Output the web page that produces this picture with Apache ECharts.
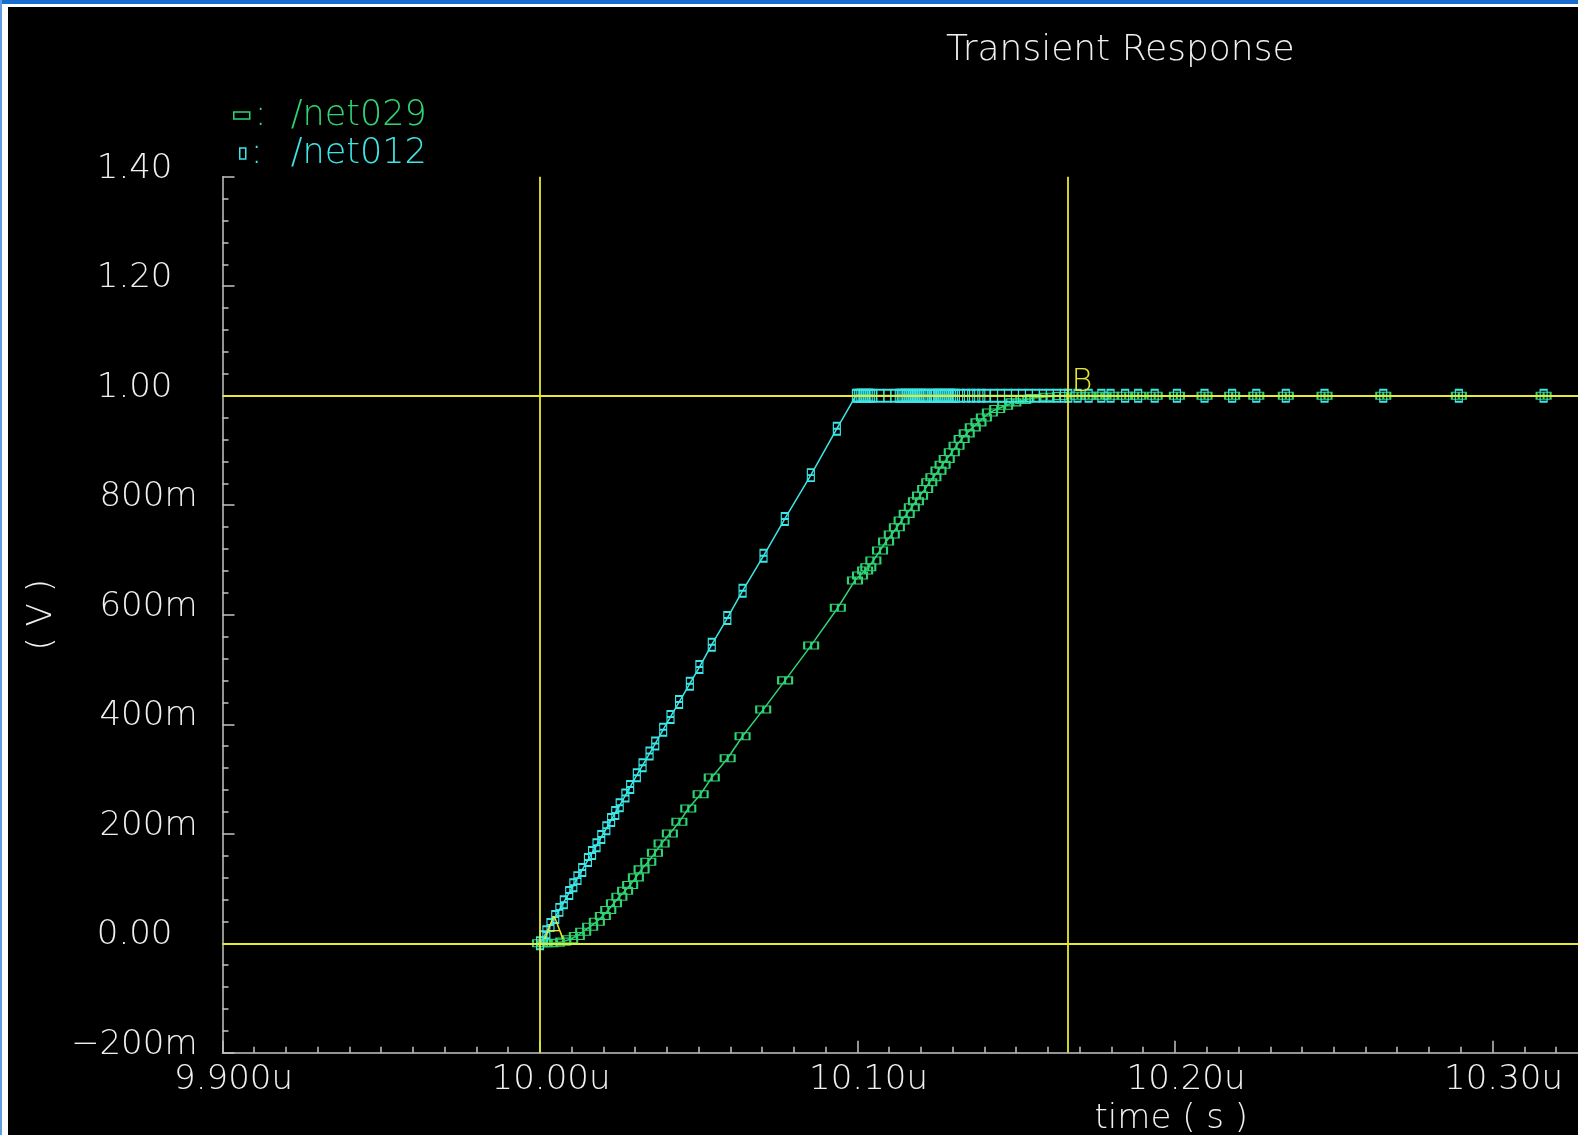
<!DOCTYPE html>
<html><head><meta charset="utf-8">
<script src="https://cdn.jsdelivr.net/npm/echarts@6/dist/echarts.min.js"></script>
<style>
html,body{margin:0;padding:0;background:#000;overflow:hidden;width:1578px;height:1135px}
#wrap{position:absolute;left:0;top:0;width:1578px;height:1135px;overflow:hidden}
#chart{position:absolute;left:0;top:0;width:1810px;height:1135px}
.b{position:absolute;z-index:5}
</style></head><body>
<div id="wrap"><div id="chart"></div></div>
<div class="b" style="left:0;top:0;width:1578px;height:4px;background:#1b6ccf"></div>
<div class="b" style="left:2px;top:4px;width:1576px;height:3px;background:#fff"></div>
<div class="b" style="left:0;top:0;width:2px;height:1135px;background:#5d9de0"></div>
<div class="b" style="left:2px;top:4px;width:6px;height:1131px;background:#fff"></div>
<script>
// ---------- data ----------
const chartTitle = 'Transient Response';
const seriesNames = ['/net029', '/net012'];
const xAxisName = 'time ( s )';
const yAxisName = '( V )';
const xTickValues = [9.9, 10.0, 10.1, 10.2, 10.3];
const xTickLabels = ['9.900u', '10.00u', '10.10u', '10.20u', '10.30u'];
const yTickValues = [-0.2, 0, 0.2, 0.4, 0.6, 0.8, 1.0, 1.2, 1.4];
const yTickLabels = ['\u2212200m', '0.00', '200m', '400m', '600m', '800m', '1.00', '1.20', '1.40'];
const cursorNames = ['A', 'B'];
const cursorTimes = [10.0, 10.1663];
const cursorValues = [0, 1.0];

// /net012 (cyan) : time in us, voltage in V
const timeNet012 = [10.0000, 10.0011, 10.0020, 10.0033, 10.0048, 10.0061, 10.0075, 10.0092, 10.0105, 10.0118,
  10.0133, 10.0151, 10.0164, 10.0178, 10.0193, 10.0209, 10.0224, 10.0237, 10.0251, 10.0269,
  10.0284, 10.0305, 10.0323, 10.0345, 10.0363, 10.0388, 10.0411, 10.0438, 10.0472, 10.0502,
  10.0541, 10.0590, 10.0638, 10.0704, 10.0771, 10.0853, 10.0935, 10.0995,
  10.1001, 10.1007, 10.1013, 10.1019, 10.1025, 10.1031, 10.1037, 10.1043, 10.1049,
  10.1072, 10.1094, 10.1116,
  10.1130, 10.1136, 10.1142, 10.1148, 10.1154, 10.1160, 10.1166, 10.1172, 10.1178, 10.1184,
  10.1190, 10.1196, 10.1202, 10.1208, 10.1214, 10.1220, 10.1232, 10.1238, 10.1244, 10.1250,
  10.1256, 10.1262, 10.1268, 10.1274, 10.1280, 10.1286, 10.1292, 10.1298, 10.1304, 10.1310,
  10.1326, 10.1342, 10.1358, 10.1374, 10.1390, 10.1406,
  10.1430, 10.1452, 10.1474, 10.1496, 10.1518, 10.1540, 10.1562, 10.1584, 10.1606, 10.1628, 10.1650, 10.1664,
  10.1693, 10.1728, 10.1768, 10.1797, 10.1843, 10.1884, 10.1936, 10.2006, 10.2093, 10.2180,
  10.2256, 10.2349, 10.2471, 10.2656, 10.2894, 10.3161, 10.3600];
const voltNet012 = [0, 0.011, 0.020, 0.0335, 0.048, 0.061, 0.075, 0.092, 0.106, 0.119,
  0.134, 0.152, 0.165, 0.179, 0.194, 0.210, 0.225, 0.238, 0.252, 0.270,
  0.2856, 0.307, 0.325, 0.3465, 0.3648, 0.390, 0.4133, 0.4406, 0.474, 0.5045,
  0.5453, 0.594, 0.6438, 0.7077, 0.775, 0.855, 0.9398, 1.0,
  1, 1, 1, 1, 1, 1, 1, 1, 1,
  1, 1, 1,
  1, 1, 1, 1, 1, 1, 1, 1, 1, 1,
  1, 1, 1, 1, 1, 1, 1, 1, 1, 1,
  1, 1, 1, 1, 1, 1, 1, 1, 1, 1,
  1, 1, 1, 1, 1, 1,
  1, 1, 1, 1, 1, 1, 1, 1, 1, 1, 1, 1,
  1, 1, 1, 1, 1, 1, 1, 1, 1, 1,
  1, 1, 1, 1, 1, 1, 1];

// /net029 (green)
const timeNet029 = [10.0000, 10.0015, 10.0032, 10.0053, 10.0073, 10.0095, 10.0116, 10.0136, 10.0158, 10.0179,
  10.0198, 10.0215, 10.0233, 10.0250, 10.0268, 10.0284, 10.0302, 10.0320, 10.0341, 10.0362,
  10.0383, 10.0409, 10.0439, 10.0467, 10.0506, 10.0541, 10.0591, 10.0638, 10.0703, 10.0772,
  10.0854, 10.0938, 10.0992, 10.1008, 10.1024, 10.1034, 10.1050, 10.1071, 10.1090, 10.1108,
  10.1124, 10.1139, 10.1155, 10.1171, 10.1184, 10.1197, 10.1213, 10.1226, 10.1239, 10.1255,
  10.1268, 10.1281, 10.1297, 10.1312, 10.1328, 10.1344, 10.1363, 10.1381, 10.1398, 10.1417,
  10.1440, 10.1465, 10.1491, 10.1522, 10.1554, 10.1596, 10.1638,
  10.1693, 10.1728, 10.1768, 10.1797, 10.1843, 10.1884, 10.1936, 10.2006, 10.2093, 10.2180,
  10.2256, 10.2349, 10.2471, 10.2656, 10.2894, 10.3161, 10.3600];
const voltNet029 = [0, 0, 0, 0.001, 0.003, 0.0073, 0.0133, 0.0212, 0.0303, 0.0394,
  0.0498, 0.0607, 0.0730, 0.0850, 0.0959, 0.1063, 0.1204, 0.1350, 0.1488, 0.1652,
  0.1824, 0.2006, 0.2218, 0.2462, 0.2723, 0.3028, 0.3380, 0.3781, 0.4268, 0.4802,
  0.5440, 0.6128, 0.6626, 0.6717, 0.6808, 0.6868, 0.6991, 0.7173, 0.7337, 0.7465,
  0.7598, 0.7720, 0.7842, 0.7963, 0.8072, 0.8176, 0.8298, 0.8419, 0.8510, 0.8632,
  0.8741, 0.8845, 0.8966, 0.9088, 0.9210, 0.9312, 0.9422, 0.9513, 0.9604, 0.9695,
  0.9757, 0.9818, 0.9878, 0.9922, 0.9958, 0.9982, 0.9995,
  1, 1, 1, 1, 1, 1, 1, 1, 1, 1,
  1, 1, 1, 1, 1, 1, 1];

// ---------- style ----------
const FONT = 'DejaVu Sans';
const FW = 200;
const GREEN = '#2fd473';
const CYAN = '#3ce6e6';
const YELLOW = '#e8e830';
const AXIS = '#c4c4c4';
const TXT = '#f0f0f0';

const zip = (a, b) => a.map((t, i) => [t, b[i]]);
const findLabel = (vals, labs, v) => {
  for (let i = 0; i < vals.length; i++) if (Math.abs(vals[i] - v) < 1e-6) return labs[i];
  return '';
};

const chart = echarts.init(document.getElementById('chart'), null, {renderer: 'canvas'});
const legendBase = {
  orient: 'vertical', padding: 0, itemGap: 0, selectedMode: false,
  formatter: n => '{c|:}{n|' + n + '}'
};
chart.setOption({
  backgroundColor: '#000',
  animation: false,
  title: {
    text: chartTitle, left: 946, top: 33, padding: 0,
    textStyle: {color: TXT, fontFamily: FONT, fontWeight: FW, fontSize: 36}
  },
  legend: [
    Object.assign({}, legendBase, {
      left: 233, top: 98, itemWidth: 16, itemHeight: 7,
      data: [{name: seriesNames[0], icon: 'path://M0,0L16,0L16,7L0,7Z',
        itemStyle: {color: 'rgba(0,0,0,0)', borderColor: GREEN, borderWidth: 1.5}}],
      textStyle: {color: GREEN, fontFamily: FONT, fontWeight: FW, fontSize: 35,
        rich: {c: {width: 36, color: GREEN, fontFamily: FONT, fontWeight: FW, fontSize: 35},
               n: {color: GREEN, fontFamily: FONT, fontWeight: FW, fontSize: 35}}}
    }),
    Object.assign({}, legendBase, {
      left: 239, top: 136, itemWidth: 6, itemHeight: 11,
      data: [{name: seriesNames[1], icon: 'path://M0,0L6,0L6,11L0,11Z',
        itemStyle: {color: 'rgba(0,0,0,0)', borderColor: CYAN, borderWidth: 1.5}}],
      textStyle: {color: CYAN, fontFamily: FONT, fontWeight: FW, fontSize: 35,
        rich: {c: {width: 40, color: CYAN, fontFamily: FONT, fontWeight: FW, fontSize: 35},
               n: {color: CYAN, fontFamily: FONT, fontWeight: FW, fontSize: 35}}}
    })
  ],
  grid: {left: 222.5, top: 176.7, bottom: 82.2, right: 0, containLabel: false, outerBoundsMode: 'none'},
  xAxis: {
    type: 'value', min: 9.9, max: 10.4, interval: 0.1,
    axisLine: {show: true, onZero: false, lineStyle: {color: AXIS, width: 1.5}},
    axisTick: {show: true, inside: true, length: 12, lineStyle: {color: AXIS, width: 1.5}},
    minorTick: {show: true, splitNumber: 10, length: 6, lineStyle: {color: AXIS, width: 1.5}},
    splitLine: {show: false},
    axisLabel: {
      show: true, margin: 10, color: TXT, fontFamily: FONT, fontWeight: FW, fontSize: 34,
      padding: [0, 0, 0, 22],
      formatter: v => findLabel(xTickValues, xTickLabels, v)
    },
    name: xAxisName, nameLocation: 'middle', nameGap: 45,
    nameTextStyle: {color: TXT, fontFamily: FONT, fontWeight: FW, fontSize: 34, padding: [0, 0, 0, 310]}
  },
  yAxis: {
    type: 'value', min: -0.2, max: 1.4, interval: 0.2,
    axisLine: {show: true, onZero: false, lineStyle: {color: AXIS, width: 1.5}},
    axisTick: {show: true, inside: true, length: 12, lineStyle: {color: AXIS, width: 1.5}},
    minorTick: {show: true, splitNumber: 5, length: 6, lineStyle: {color: AXIS, width: 1.5}},
    splitLine: {show: false},
    axisLabel: {
      show: true, margin: 25, color: TXT, fontFamily: FONT, fontWeight: FW, fontSize: 34,
      padding: [0, 0, 16, 0],
      formatter: v => {
        const l = findLabel(yTickValues, yTickLabels, v);
        return l.indexOf('.') >= 0 ? '{n|' + l + '}{s| }' : l;
      },
      rich: {
        n: {color: TXT, fontFamily: FONT, fontWeight: FW, fontSize: 34},
        s: {width: 25, fontFamily: FONT, fontSize: 34}
      }
    },
    name: yAxisName, nameLocation: 'middle', nameGap: 163, nameRotate: 90,
    nameTextStyle: {color: TXT, fontFamily: FONT, fontWeight: FW, fontSize: 34}
  },
  series: [
    {
      name: seriesNames[0], type: 'line', data: zip(timeNet029, voltNet029),
      showAllSymbol: true, silent: true, z: 2,
      symbol: 'path://M0,0L14,0L14,7L0,7Z M7,0L7,7', symbolSize: [14, 7],
      itemStyle: {color: 'rgba(0,0,0,0)', borderColor: GREEN, borderWidth: 1.5},
      lineStyle: {color: GREEN, width: 1.5},
      emphasis: {disabled: true}
    },
    {
      name: seriesNames[1], type: 'line', data: zip(timeNet012, voltNet012),
      showAllSymbol: true, silent: true, z: 3,
      symbol: 'path://M0,0L7,0L7,12L0,12Z M0,6L7,6', symbolSize: [7, 12],
      itemStyle: {color: 'rgba(0,0,0,0)', borderColor: CYAN, borderWidth: 1.5},
      lineStyle: {color: CYAN, width: 1.5},
      emphasis: {disabled: true},
      markLine: {
        silent: true, symbol: ['none', 'none'], animation: false, z: 5, precision: 5,
        label: {show: false},
        lineStyle: {color: YELLOW, width: 1.8, type: 'solid'},
        emphasis: {disabled: true},
        data: [
          {xAxis: cursorTimes[0]}, {xAxis: cursorTimes[1]},
          {yAxis: cursorValues[0]}, {yAxis: cursorValues[1]}
        ]
      },
      markPoint: {
        silent: true, symbol: 'rect', symbolSize: 1, animation: false, z: 6,
        itemStyle: {color: 'rgba(0,0,0,0)'},
        label: {show: true, position: 'inside', formatter: p => p.name, offset: [14, -13],
          color: YELLOW, fontFamily: FONT, fontWeight: FW, fontSize: 32},
        data: cursorNames.map((n, i) => ({name: n, coord: [cursorTimes[i], cursorValues[i]]}))
      }
    }
  ]
});
</script>
</body></html>
